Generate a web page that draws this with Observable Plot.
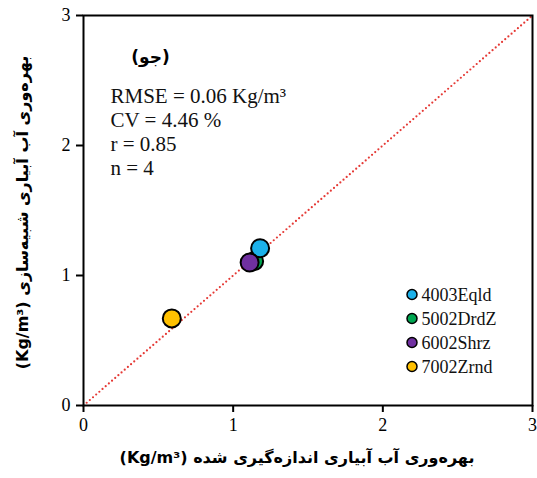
<!DOCTYPE html>
<html><head><meta charset="utf-8">
<script src="https://cdn.jsdelivr.net/npm/d3@7"></script>
<script src="https://cdn.jsdelivr.net/npm/@observablehq/plot@0.6"></script>
<style>body{margin:0;background:#fff}</style>
</head><body><div id="chart"></div>
<script>
const stations = ["4003Eqld", "5002DrdZ", "6002Shrz", "7002Zrnd"];
const measured = [1.18, 1.14, 1.11, 0.59];
const simulated = [1.21, 1.11, 1.10, 0.67];
const colors = ["#1cb1ea", "#00a651", "#7030a0", "#ffc000"];
const drawOrder = [1, 0, 2, 3];
const tickValues = [0, 1, 2, 3];
const oneToOne = [0, 3];
const statsLines = ["RMSE = 0.06 Kg/m³", "CV = 4.46 %", "r = 0.85", "n = 4"];
const panelLabel = "(جو)";
const xLabel = "(Kg/m³) بهره‌وری آب آبیاری اندازه‌گیری شده";
const yLabel = "(Kg/m³) بهره‌وری آب آبیاری شبیه‌سازی";

const faFont = "'DejaVu Sans', sans-serif";

const legendMarks = stations.flatMap((s, i) => [
  Plot.dot([s], {frameAnchor: "top-left", dx: 328.5, dy: 279 + i * 24, r: 5, fill: colors[i], stroke: "#000", strokeWidth: 1.5}),
  Plot.text([s], {frameAnchor: "top-left", dx: 338, dy: 280 + i * 24, text: d => d, textAnchor: "start", lineAnchor: "middle", fontSize: 18, fill: "#111"})
]);

const chart = Plot.plot({
  width: 537, height: 478,
  marginLeft: 83, marginRight: 5, marginTop: 15, marginBottom: 73,
  style: {fontFamily: "'Liberation Serif', 'Times New Roman', serif", background: "#fff", color: "#000"},
  x: {domain: [0, 3]},
  y: {domain: [0, 3]},
  color: {type: "identity"},
  marks: [
    Plot.line(oneToOne, {x: d => d, y: d => d, stroke: "#e53935", strokeWidth: 2.2, strokeDasharray: "0,4.2", strokeLinecap: "round"}),
    Plot.frame({stroke: "#000", strokeWidth: 2}),
    Plot.axisX({ticks: tickValues, tickSize: 7, tickPadding: 6, fontSize: 18, label: null, strokeWidth: 2, tickFormat: d => String(d)}),
    Plot.axisY({ticks: tickValues, tickSize: 7, tickPadding: 6, fontSize: 18, label: null, strokeWidth: 2, tickFormat: d => String(d)}),
    Plot.dot(drawOrder, {x: i => measured[i], y: i => simulated[i], r: 9, fill: i => colors[i], stroke: "#000", strokeWidth: 2}),
    ...legendMarks,
    Plot.text([statsLines.join("\n")], {frameAnchor: "top-left", dx: 27, dy: 116, textAnchor: "start", lineAnchor: "middle", lineHeight: 1.143, fontSize: 21, fill: "#111"}),
    Plot.text([panelLabel], {frameAnchor: "top-left", dx: 67, dy: 35, textAnchor: "middle", fontFamily: faFont, fontWeight: "bold", fontSize: 17, fill: "#000"}),
    Plot.text([xLabel], {frameAnchor: "bottom", dx: -11, dy: 57, textAnchor: "middle", fontFamily: faFont, fontWeight: "bold", fontSize: 16, fill: "#000"}),
    Plot.text([yLabel], {frameAnchor: "left", dx: -61, dy: 2, rotate: -90, textAnchor: "middle", fontFamily: faFont, fontWeight: "bold", fontSize: 16, fill: "#000"})
  ]
});
document.getElementById("chart").appendChild(chart);
</script>
</body></html>
